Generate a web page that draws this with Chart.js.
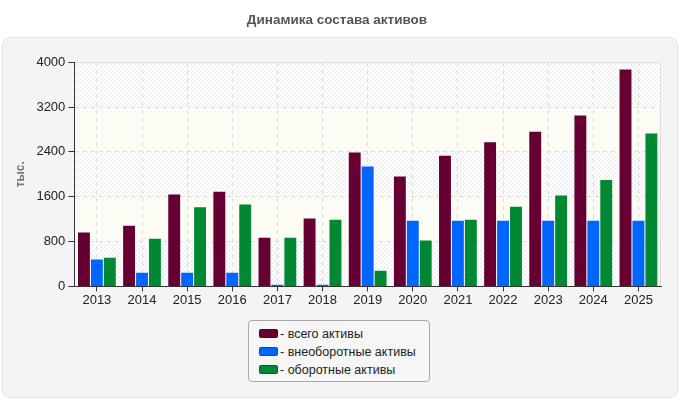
<!DOCTYPE html>
<html>
<head>
<meta charset="utf-8">
<script src="https://cdn.jsdelivr.net/npm/chart.js@4/dist/chart.umd.min.js"></script>
<style>
  body { margin: 0; background: #fff; font-family: "Liberation Sans", Arial, sans-serif; }
  #wrap { position: relative; width: 680px; height: 400px; }
  #panel { position: absolute; left: 2px; top: 37px; width: 674px; height: 359px;
           background: #f4f4f4; border: 1px solid #e3e3e3; border-radius: 8px; }
  canvas { position: absolute; left: 0; top: 0; }
  #legend { position: absolute; left: 248px; top: 320px; width: 182px; height: 62px; box-sizing: border-box;
            border: 1px solid #a9a9a9; border-radius: 4px; background: #f6f6f6; padding-top: 4px; }
  .item { height: 18px; line-height: 18px; font-size: 12.5px; color: #222; padding-left: 10px; white-space: nowrap; }
  .sw { display: inline-block; width: 17px; height: 7px; border-radius: 2px; margin-right: 2px;
        vertical-align: middle; position: relative; top: -1px; border: 1px solid rgba(0,0,0,0.25); }
</style>
</head>
<body>
<div id="wrap">
  <div id="panel"></div>
  <canvas id="myChart" width="680" height="400"></canvas>
  <div id="legend"></div>
</div>
<script>
const years = ["2013", "2014", "2015", "2016", "2017", "2018", "2019", "2020", "2021", "2022", "2023", "2024", "2025"];
const totalAssets = [960, 1080, 1640, 1690, 870, 1210, 2390, 1960, 2330, 2570, 2760, 3050, 3870];
const nonCurrentAssets = [480, 245, 245, 245, 30, 30, 2140, 1170, 1170, 1170, 1170, 1170, 1170];
const currentAssets = [510, 850, 1410, 1460, 870, 1190, 280, 820, 1190, 1420, 1620, 1900, 2730];
const seriesNames = ["всего активы", "внеоборотные активы", "оборотные активы"];
const seriesColors = ["#660033", "#0066ff", "#008833"];
const yTicks = [0, 800, 1600, 2400, 3200, 4000];

// diagonal hatch for the gray bands
const pat = document.createElement("canvas");
pat.width = 4; pat.height = 4;
const pc = pat.getContext("2d");
pc.fillStyle = "#ffffff";
pc.fillRect(0, 0, 4, 4);
pc.strokeStyle = "#e8e8e8";
pc.lineWidth = 1;
pc.beginPath();
pc.moveTo(0, 4); pc.lineTo(4, 0);
pc.moveTo(-1, 1); pc.lineTo(1, -1);
pc.moveTo(3, 5); pc.lineTo(5, 3);
pc.stroke();

const bands = {
    id: "bands",
    beforeDraw(chart) {
        const ctx = chart.ctx;
        const a = chart.chartArea;
        const y = chart.scales.y;
        const hatch = ctx.createPattern(pat, "repeat");
        ctx.save();
        for (let i = 0; i < yTicks.length - 1; i++) {
            const top = y.getPixelForValue(yTicks[i + 1]);
            const bot = y.getPixelForValue(yTicks[i]);
            ctx.fillStyle = (i % 2 == 0) ? hatch : "#fcfcf5";
            ctx.fillRect(a.left, top, a.right - a.left, bot - top);
        }
        ctx.strokeStyle = "#dddddd";
        ctx.lineWidth = 1;
        ctx.beginPath();
        ctx.moveTo(a.left, a.top + 0.5);
        ctx.lineTo(a.right - 0.5, a.top + 0.5);
        ctx.lineTo(a.right - 0.5, a.bottom);
        ctx.stroke();
        ctx.restore();
    }
};

const datasets = [totalAssets, nonCurrentAssets, currentAssets].map((d, i) => ({
    label: seriesNames[i],
    data: d,
    backgroundColor: seriesColors[i],
    barPercentage: 0.92,
    categoryPercentage: 0.86
}));

new Chart(document.getElementById("myChart"), {
    type: "bar",
    data: { labels: years, datasets: datasets },
    options: {
        responsive: false,
        animation: false,
        layout: { padding: { left: 13, right: 19, top: 0, bottom: 91 } },
        plugins: {
            legend: { display: false },
            tooltip: { enabled: false },
            title: {
                display: true,
                text: "Динамика состава активов",
                color: "#555",
                font: { family: "Liberation Sans", size: 13.5, weight: "bold" },
                padding: { top: 12, bottom: 34 }
            }
        },
        scales: {
            x: {
                grid: { offset: false, color: "#dddddd", tickColor: "#333", tickLength: 5 },
                border: { color: "#333", dash: [4, 4] },
                ticks: { color: "#222", font: { family: "Liberation Sans", size: 13 }, padding: 1 }
            },
            y: {
                min: 0,
                max: 4000,
                afterBuildTicks: (axis) => { axis.ticks = yTicks.map(v => ({ value: v })); },
                grid: { color: "#dddddd", tickColor: "#333", tickLength: 6 },
                border: { color: "#333", dash: [4, 4] },
                ticks: { color: "#222", font: { family: "Liberation Sans", size: 13 }, padding: 3,
                         callback: (v) => String(v) },
                title: {
                    display: true,
                    text: "тыс.",
                    color: "#777",
                    font: { family: "Liberation Sans", size: 12, weight: "bold" },
                    padding: { top: 0, bottom: 6 }
                }
            }
        }
    },
    plugins: [bands]
});

// legend box
const legend = document.getElementById("legend");
seriesNames.forEach((name, i) => {
    legend.innerHTML += `<div class="item"><span class="sw" style="background:${seriesColors[i]}"></span>- ${name}</div>`;
});
</script>
</body>
</html>
